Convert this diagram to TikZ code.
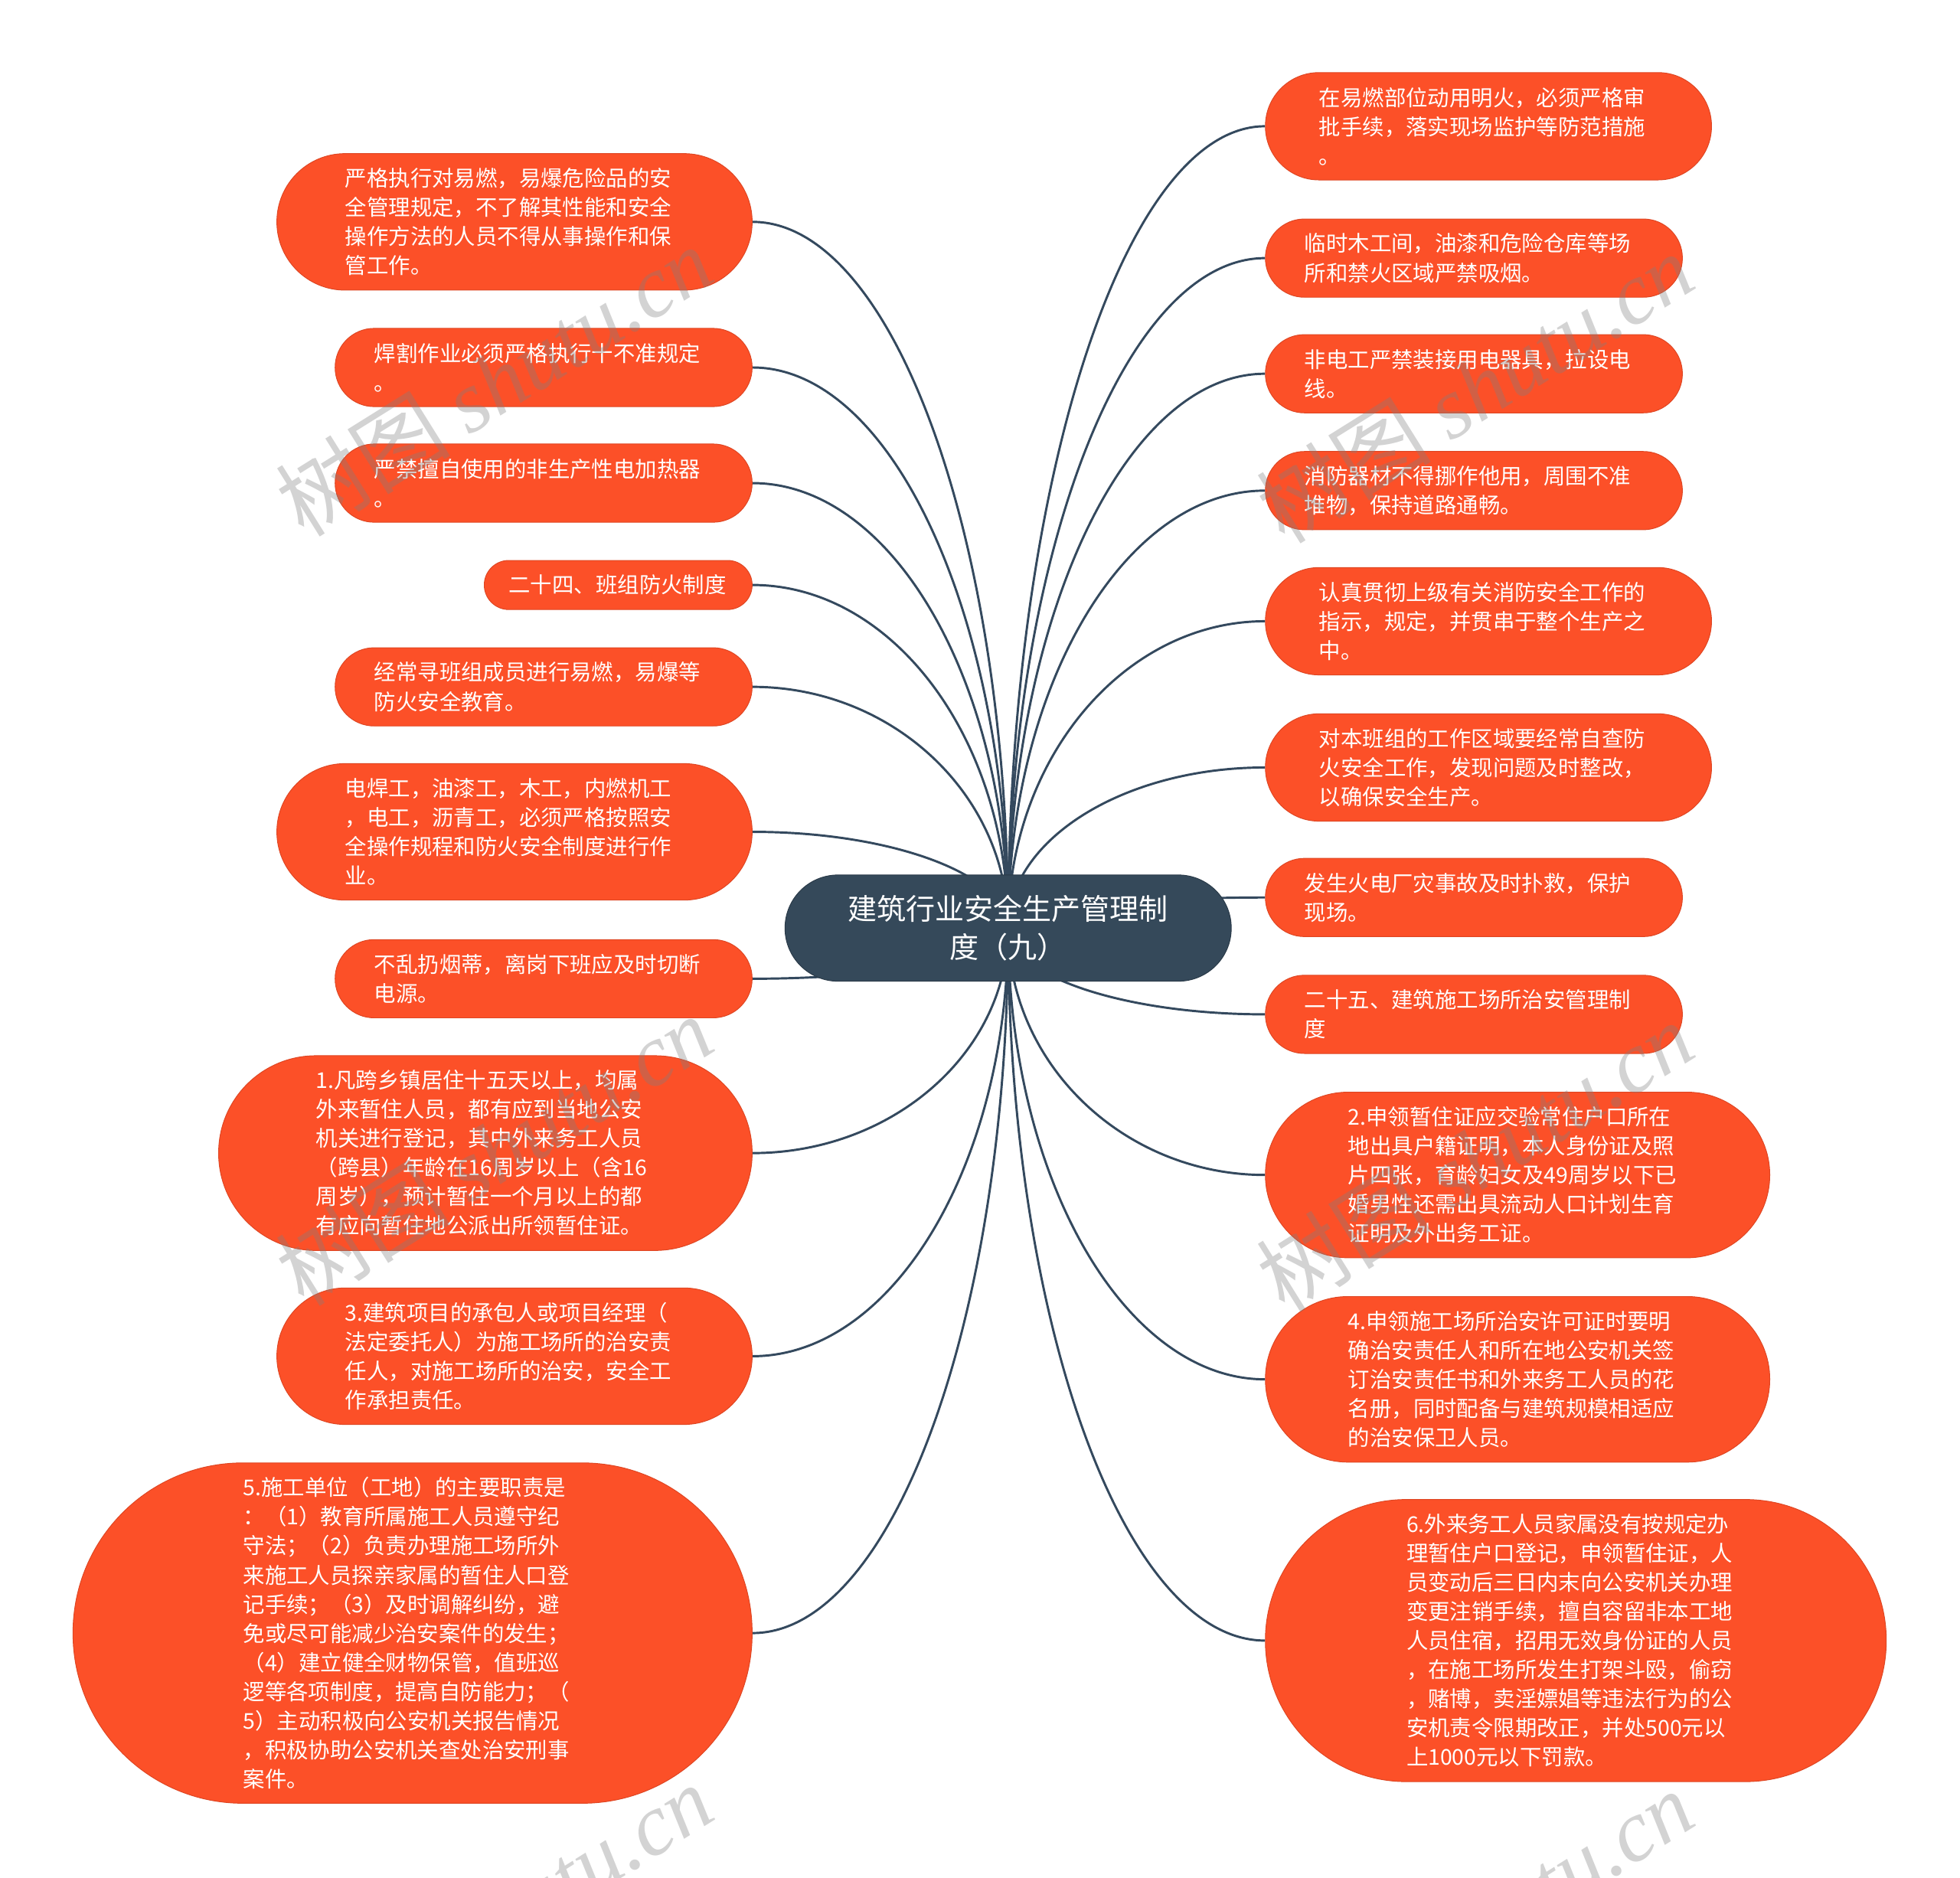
\documentclass[tikz,border=0pt]{standalone}
\usepackage{fontspec}
\setmainfont{Noto Sans CJK SC}
\newfontfamily\wmfont{Liberation Serif}
\usepackage{tikz}
\usetikzlibrary{calc,backgrounds}
\definecolor{leafred}{HTML}{FC5028}
\definecolor{rootblue}{HTML}{35495A}
\definecolor{linkblue}{HTML}{34495E}

\begin{document}
\begin{tikzpicture}[x=1pt,y=1pt,
  leaf/.style={fill=leafred, draw=leafred!88!black, line width=0.6pt, text=white,
    font=\fontsize{17.4pt}{23.3pt}\selectfont, align=left, text width=271pt,
    minimum height=#1*23.3pt+16pt, inner ysep=0pt,
    inner xsep=0.5*(#1*23.3pt+16pt), rounded corners=0.499*(#1*23.3pt+16pt)},
  root/.style={fill=rootblue, draw=rootblue!80!black, line width=0.6pt, text=white,
    font=\fontsize{23.3pt}{31pt}\selectfont, align=center, text width=272pt,
    minimum height=85pt, inner ysep=0pt, inner xsep=42.5pt, rounded corners=42.4pt},
  link/.style={draw=linkblue, line width=1.8pt},
  watermark/.style={text=gray, text opacity=0.35, rotate=32,
    font=\fontsize{70pt}{70pt}\selectfont}]
  \useasboundingbox (0,0) rectangle (1568,-1502);

  \node[root] (root) at (806.5,-742.5) {建筑行业安全生产管理制\\度（九）};

  \node[leaf=4, anchor=east] (L1) at (602,-177.5) {严格执行对易燃，易爆危险品的安\\全管理规定，不了解其性能和安全\\操作方法的人员不得从事操作和保\\管工作。};
  \node[leaf=2, anchor=east] (L2) at (602,-294) {焊割作业必须严格执行十不准规定\\。};
  \node[leaf=2, anchor=east] (L3) at (602,-386.5) {严禁擅自使用的非生产性电加热器\\。};
  \node[leaf=1, anchor=east, text width=175pt] (L4) at (602,-468) {二十四、班组防火制度};
  \node[leaf=2, anchor=east] (L5) at (602,-549.5) {经常寻班组成员进行易燃，易爆等\\防火安全教育。};
  \node[leaf=4, anchor=east] (L6) at (602,-665.5) {电焊工，油漆工，木工，内燃机工\\，电工，沥青工，必须严格按照安\\全操作规程和防火安全制度进行作\\业。};
  \node[leaf=2, anchor=east] (L7) at (602,-783) {不乱扔烟蒂，离岗下班应及时切断\\电源。};
  \node[leaf=6, anchor=east] (L8) at (602,-922.5) {1.凡跨乡镇居住十五天以上，均属\\外来暂住人员，都有应到当地公安\\机关进行登记，其中外来务工人员\\（跨县）年龄在16周岁以上（含16\\周岁），预计暂住一个月以上的都\\有应向暂住地公派出所领暂住证。};
  \node[leaf=4, anchor=east] (L9) at (602,-1085) {3.建筑项目的承包人或项目经理（\\法定委托人）为施工场所的治安责\\任人，对施工场所的治安，安全工\\作承担责任。};
  \node[leaf=11, anchor=east] (L10) at (602,-1306.5) {5.施工单位（工地）的主要职责是\\：（1）教育所属施工人员遵守纪\\守法；（2）负责办理施工场所外\\来施工人员探亲家属的暂住人口登\\记手续；（3）及时调解纠纷，避\\免或尽可能减少治安案件的发生；\\（4）建立健全财物保管，值班巡\\逻等各项制度，提高自防能力；（\\5）主动积极向公安机关报告情况\\，积极协助公安机关查处治安刑事\\案件。};

  \node[leaf=3, anchor=west] (R1) at (1012,-101) {在易燃部位动用明火，必须严格审\\批手续，落实现场监护等防范措施\\。};
  \node[leaf=2, anchor=west] (R2) at (1012,-206.5) {临时木工间，油漆和危险仓库等场\\所和禁火区域严禁吸烟。};
  \node[leaf=2, anchor=west] (R3) at (1012,-299) {非电工严禁装接用电器具，拉设电\\线。};
  \node[leaf=2, anchor=west] (R4) at (1012,-392.5) {消防器材不得挪作他用，周围不准\\堆物，保持道路通畅。};
  \node[leaf=3, anchor=west] (R5) at (1012,-497) {认真贯彻上级有关消防安全工作的\\指示，规定，并贯串于整个生产之\\中。};
  \node[leaf=3, anchor=west] (R6) at (1012,-614) {对本班组的工作区域要经常自查防\\火安全工作，发现问题及时整改，\\以确保安全生产。};
  \node[leaf=2, anchor=west] (R7) at (1012,-718) {发生火电厂灾事故及时扑救，保护\\现场。};
  \node[leaf=2, anchor=west] (R8) at (1012,-811.5) {二十五、建筑施工场所治安管理制\\度};
  \node[leaf=5, anchor=west] (R9) at (1012,-940) {2.申领暂住证应交验常住户口所在\\地出具户籍证明，本人身份证及照\\片四张，育龄妇女及49周岁以下已\\婚男性还需出具流动人口计划生育\\证明及外出务工证。};
  \node[leaf=5, anchor=west] (R10) at (1012,-1103.5) {4.申领施工场所治安许可证时要明\\确治安责任人和所在地公安机关签\\订治安责任书和外来务工人员的花\\名册，同时配备与建筑规模相适应\\的治安保卫人员。};
  \node[leaf=9, anchor=west] (R11) at (1012,-1312.5) {6.外来务工人员家属没有按规定办\\理暂住户口登记，申领暂住证，人\\员变动后三日内末向公安机关办理\\变更注销手续，擅自容留非本工地\\人员住宿，招用无效身份证的人员\\，在施工场所发生打架斗殴，偷窃\\，赌博，卖淫嫖娼等违法行为的公\\安机责令限期改正，并处500元以\\上1000元以下罚款。};

  \begin{scope}[on background layer]
    \foreach \n in {L1,L2,L3,L4,L5,L6,L7,L8,L9,L10} {
      \coordinate (k) at (root.center |- \n.east);
      \draw[link] (root.center) .. controls ($(root.center)!0.55!(k)$) and ($(\n.east)!0.55!(k)$) .. (\n.east);
    }
    \foreach \n in {R1,R2,R3,R4,R5,R6,R7,R8,R9,R10,R11} {
      \coordinate (k) at (root.center |- \n.west);
      \draw[link] (root.center) .. controls ($(root.center)!0.55!(k)$) and ($(\n.west)!0.55!(k)$) .. (\n.west);
    }
  \end{scope}

  \node[watermark] (wm1) at (395,-305) {树图 {\wmfont\itshape shutu.cn}};
  \node[watermark] (wm2) at (1180,-310) {树图 {\wmfont\itshape shutu.cn}};
  \node[watermark] (wm3) at (395,-920) {树图 {\wmfont\itshape shutu.cn}};
  \node[watermark] (wm4) at (1180,-925) {树图 {\wmfont\itshape shutu.cn}};
  \node[watermark] (wm5) at (395,-1535) {树图 {\wmfont\itshape shutu.cn}};
  \node[watermark] (wm6) at (1180,-1540) {树图 {\wmfont\itshape shutu.cn}};
\end{tikzpicture}
\end{document}
